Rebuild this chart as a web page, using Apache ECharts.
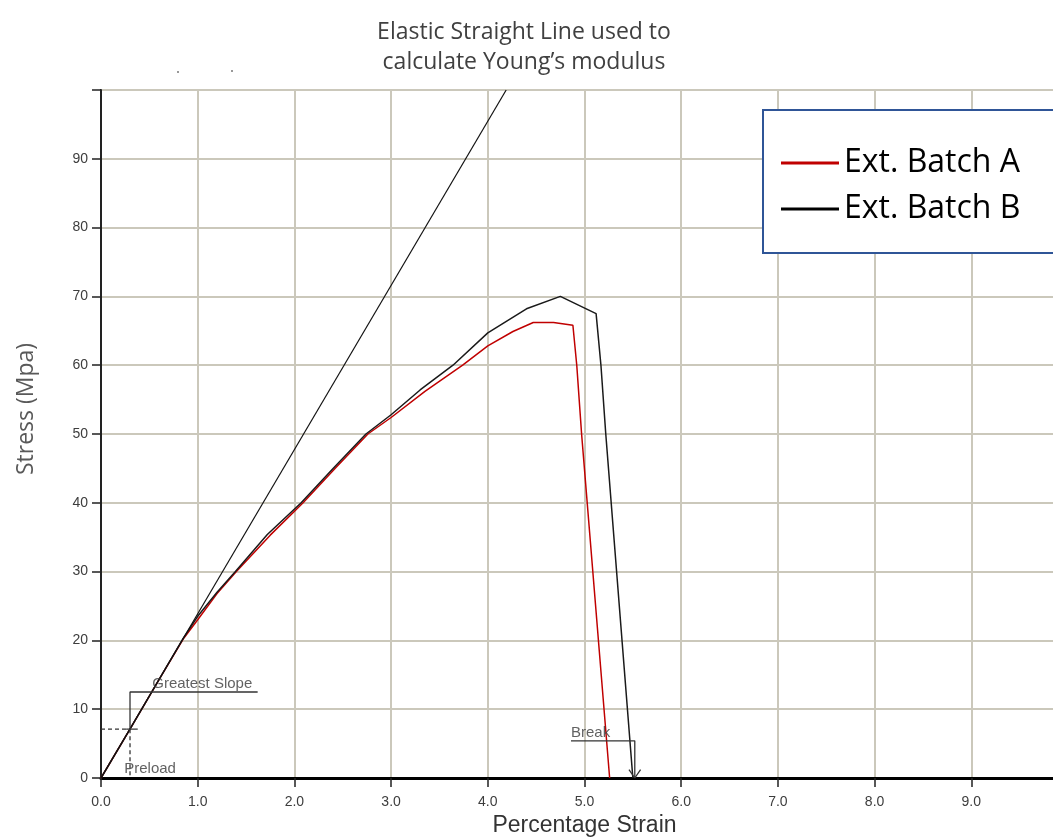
<!DOCTYPE html>
<html>
<head>
<meta charset="utf-8">
<script src="https://cdn.jsdelivr.net/npm/echarts@6/dist/echarts.min.js"></script>
<style>
html,body{margin:0;padding:0;background:#fff;}
#chart{width:1053px;height:837px;}
</style>
</head>
<body>
<div id="chart"></div>
<script>
// ---- data ----
const titleLines = ['Elastic Straight Line used to', 'calculate Young\u2019s modulus'];
const seriesNames = ['Ext. Batch A', 'Ext. Batch B'];

const strainA = [0, 0.30, 0.60, 0.85, 1.00, 1.20, 1.40, 1.75, 2.09, 2.42, 2.76, 3.00, 3.35, 3.74, 4.00, 4.26, 4.47, 4.68, 4.88, 4.92, 4.97, 5.26];
const stressA = [0, 7.1, 14.3, 20.2, 23.0, 26.8, 30.0, 35.3, 40.0, 45.0, 50.0, 52.4, 56.2, 60.0, 62.8, 64.9, 66.2, 66.2, 65.8, 60.0, 50.0, 0];

const strainB = [0, 0.30, 0.60, 0.85, 1.00, 1.20, 1.39, 1.72, 2.07, 2.40, 2.74, 3.00, 3.30, 3.64, 4.00, 4.40, 4.75, 5.12, 5.17, 5.22, 5.50];
const stressB = [0, 7.1, 14.3, 20.3, 23.5, 27.0, 30.0, 35.4, 40.0, 45.0, 50.0, 52.8, 56.4, 60.0, 64.7, 68.2, 70.0, 67.5, 60.0, 50.0, 0];

const elasticStrain = [0, 4.19];
const elasticStress = [0, 100];

// annotation marks (in data units)
const slopeMarkStrain = [0.30, 0.30, 1.62];
const slopeMarkStress = [7.1, 12.5, 12.5];
const preloadHStrain = [0, 0.30];
const preloadHStress = [7.1, 7.1];
const preloadVStrain = [0.30, 0.30];
const preloadVStress = [7.1, 0];
const preloadTickStrain = [0.26, 0.38];
const preloadTickStress = [7.1, 7.1];
const breakStrain = [4.86, 5.52, 5.52];
const breakStress = [5.4, 5.4, 0];
const arrowStrain = [5.46, 5.52, 5.58];
const arrowStress = [1.2, 0, 1.2];
const noteText = ['Greatest Slope', 'Preload', 'Break'];
const noteStrain = [0.53, 0.24, 4.86];
const noteStress = [13.75, 1.3, 6.55];

const xTicks = [0, 1, 2, 3, 4, 5, 6, 7, 8, 9, 10];
const yTicks = [0, 10, 20, 30, 40, 50, 60, 70, 80, 90, 100];

function pairs(xs, ys) { return xs.map((x, i) => [x, ys[i]]); }

const annColor = '#333333';
function annLine(xs, ys, dashed) {
  return {
    type: 'line', data: pairs(xs, ys), symbol: 'none', silent: true,
    lineStyle: { color: annColor, width: 1.3, type: dashed ? [4, 3] : 'solid' },
    z: 4, animation: false
  };
}

const chart = echarts.init(document.getElementById('chart'), null, { renderer: 'canvas' });
chart.setOption({
  animation: false,
  backgroundColor: '#ffffff',
  title: {
    text: titleLines.join('\n'),
    left: 519, top: 12, textAlign: 'center',
    textStyle: { fontFamily: 'Open Sans', fontSize: 23, fontWeight: 'normal', color: '#404040', lineHeight: 30 }
  },
  legend: {
    data: seriesNames,
    orient: 'vertical', left: 763, top: 110,
    icon: 'rect', itemWidth: 58, itemHeight: 3, itemGap: 10,
    padding: [35, 130, 26, 18],
    backgroundColor: '#ffffff', borderColor: '#2f5597', borderWidth: 2,
    textStyle: { fontFamily: 'Open Sans', fontSize: 32, color: '#000', lineHeight: 36 }
  },
  grid: {
    left: 101, top: 90, width: 967, height: 688,
    outerBoundsMode: 'none', containLabel: false,
    show: true, borderColor: '#1a1a1a', borderWidth: 2
  },
  xAxis: {
    type: 'value', min: xTicks[0], max: xTicks[xTicks.length - 1], interval: 1,
    name: 'Percentage Strain', nameLocation: 'middle', nameGap: 35,
    nameTextStyle: { fontFamily: 'Liberation Sans', fontSize: 23, color: '#333' },
    axisLine: { show: true, onZero: false, lineStyle: { color: '#000', width: 3 } },
    axisTick: { show: true, length: 9, lineStyle: { color: '#222', width: 1.5 } },
    axisLabel: { margin: 17, fontFamily: 'Liberation Sans', fontSize: 14, color: '#3d3d3d',
      formatter: v => v.toFixed(1) },
    splitLine: { show: true, lineStyle: { color: '#cbc8bb', width: 2 } }
  },
  yAxis: {
    type: 'value', min: yTicks[0], max: yTicks[yTicks.length - 1], interval: 10,
    name: 'Stress (Mpa)', nameLocation: 'middle', nameGap: 63,
    nameTextStyle: { fontFamily: 'Open Sans', fontSize: 23, color: '#595959', padding: [0, 0, 0, 50] },
    axisLine: { show: true, lineStyle: { color: '#222', width: 2 } },
    axisTick: { show: true, length: 9, lineStyle: { color: '#222', width: 1.5 } },
    axisLabel: { margin: 13, fontFamily: 'Liberation Sans', fontSize: 14, color: '#3d3d3d',
      formatter: v => (v === 100 ? '' : String(v)) },
    splitLine: { show: true, lineStyle: { color: '#cbc8bb', width: 2 } }
  },
  graphic: [
    { type: 'circle', shape: { cx: 178, cy: 72, r: 1 }, style: { fill: '#777' } },
    { type: 'circle', shape: { cx: 232, cy: 71, r: 1 }, style: { fill: '#777' } }
  ],
  series: [
    { name: seriesNames[0], type: 'line', data: pairs(strainA, stressA), symbol: 'none',
      lineStyle: { color: '#c00000', width: 1.5 }, itemStyle: { color: '#c00000' }, z: 3 },
    { name: seriesNames[1], type: 'line', data: pairs(strainB, stressB), symbol: 'none',
      lineStyle: { color: '#1a1a1a', width: 1.5 }, itemStyle: { color: '#000000' }, z: 3 },
    { name: 'Elastic', type: 'line', data: pairs(elasticStrain, elasticStress), symbol: 'none',
      lineStyle: { color: '#111', width: 1.2 }, itemStyle: { color: '#111' }, z: 3 },
    annLine(slopeMarkStrain, slopeMarkStress, false),
    annLine(preloadHStrain, preloadHStress, true),
    annLine(preloadVStrain, preloadVStress, true),
    annLine(preloadTickStrain, preloadTickStress, false),
    annLine(breakStrain, breakStress, false),
    annLine(arrowStrain, arrowStress, false),
    {
      type: 'scatter', symbolSize: 0, silent: true, z: 5,
      data: noteText.map((t, i) => ({ name: t, value: [noteStrain[i], noteStress[i]] })),
      label: { show: true, position: 'right', distance: 0, formatter: p => p.name,
        fontFamily: 'Liberation Sans', fontSize: 15, color: '#3a3a3a' }
    }
  ]
});
</script>
</body>
</html>
